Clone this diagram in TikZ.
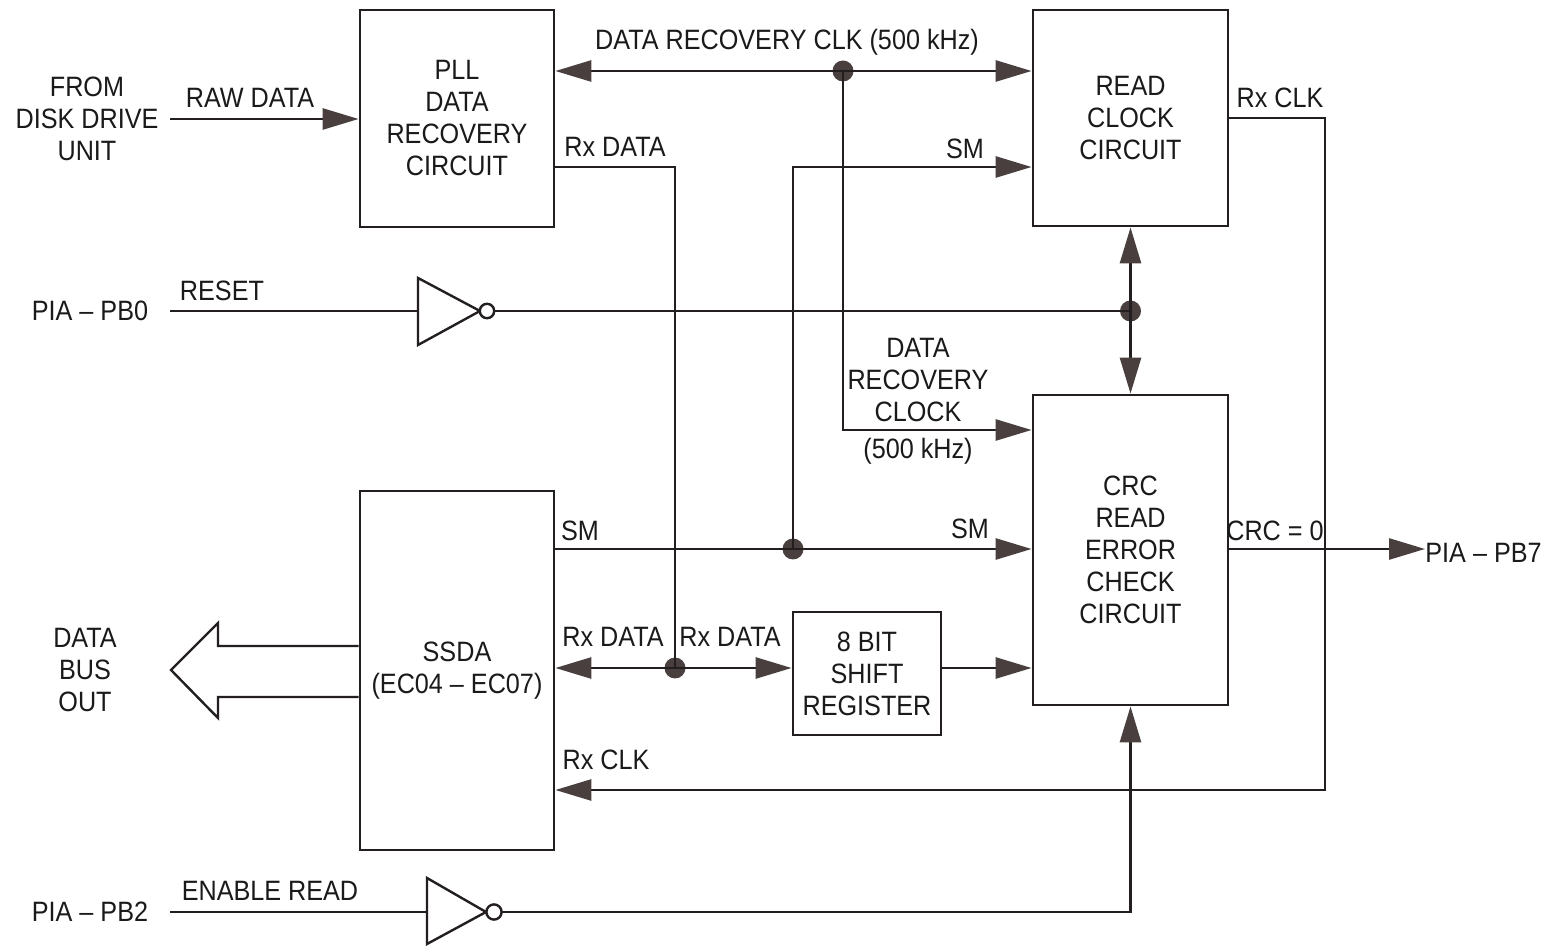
\documentclass[tikz,border=0pt]{standalone}
\usepackage{fontspec}
\setmainfont[FakeStretch=0.9]{Liberation Sans}
\usetikzlibrary{arrows.meta}
\definecolor{linec}{HTML}{231F20}
\definecolor{tipc}{HTML}{4A3F3F}
\definecolor{txtc}{HTML}{1A1A1A}
\tikzset{
  blk/.style={draw=linec, line width=1.4pt, inner sep=0pt, align=center, text=txtc,
    font=\fontsize{14}{16}\selectfont},
  lbl/.style={inner sep=0pt, align=center, text=txtc, font=\fontsize{14}{16}\selectfont},
  wire/.style={draw=linec, line width=1.35pt},
  arr/.style={wire, -{Triangle[length=18pt,width=10.5pt,fill=tipc,color=tipc]}},
  jdot/.style={circle, fill=tipc, minimum size=10.5pt, inner sep=0pt},
  gate/.style={draw=linec, line width=1.2pt, fill=white}
}
\begin{document}
\begin{tikzpicture}[x=0.5pt,y=-0.5pt]
\useasboundingbox[fill=white] (0,0) rectangle (1549,946);

% blocks
\node[blk, minimum width=97pt, minimum height=108.5pt] (pll) at (457,118.5)
  {PLL\\DATA\\RECOVERY\\CIRCUIT};
\node[blk, minimum width=97.5pt, minimum height=108pt] (rcc) at (1130.5,118)
  {READ\\CLOCK\\CIRCUIT};
\node[blk, minimum width=97.5pt, minimum height=155pt] (crc) at (1130.5,550)
  {CRC\\READ\\ERROR\\CHECK\\CIRCUIT};
\node[blk, minimum width=97pt, minimum height=179.5pt] (ssda) at (457,670.5)
  {SSDA\\(EC04 -- EC07)};
\node[blk, minimum width=74pt, minimum height=61.5pt] (sr) at (867,673.5)
  {8 BIT\\SHIFT\\REGISTER};

% labels
\node[lbl] (from) at (87,119) {FROM\\DISK DRIVE\\UNIT};
\node[lbl] at (250,98) {RAW DATA};
\node[lbl] at (787,42) {DATA RECOVERY CLK (500 kHz)};
\node[lbl] at (615,147) {Rx DATA};
\node[lbl] at (965,149) {SM};
\node[lbl] at (1280,98) {Rx CLK};
\node[lbl] at (222,291) {RESET};
\node[lbl] (pb0) at (90,311) {PIA -- PB0};
\node[lbl] at (918,380) {DATA\\RECOVERY\\CLOCK};
\node[lbl] at (918,451) {(500 kHz)};
\node[lbl] at (580,531) {SM};
\node[lbl] at (970,529) {SM};
\node[lbl] at (1275,531) {CRC = 0};
\node[lbl, anchor=west] (pb7) at (1425,553) {PIA -- PB7};
\node[lbl] at (85,670) {DATA\\BUS\\OUT};
\node[lbl] at (256,672) {D0 -- D7};
\node[lbl] at (613,637) {Rx DATA};
\node[lbl] at (730,637) {Rx DATA};
\node[lbl] at (606,760) {Rx CLK};
\node[lbl] (pb2) at (90,912) {PIA -- PB2};
\node[lbl] at (270,891) {ENABLE READ};

% junction dots
\node[jdot] (d1) at (843,71) {};
\node[jdot] (d2) at (675,668) {};
\node[jdot] (d3) at (793,549) {};
\node[jdot] (d4) at (1130.5,311) {};

% helper coordinates
\coordinate (din) at (170,119);
\coordinate (c1) at (843,430);
\coordinate (rxa) at (554,167);
\coordinate (c2) at (793,167);
\coordinate (c3) at (1325,118);
\coordinate (c4) at (1325,790);
\coordinate (rin) at (170,311);
\coordinate (i1in) at (418,311);
\coordinate (i1out) at (495,311);
\coordinate (ein) at (170,912);
\coordinate (i2in) at (427,912);
\coordinate (i2out) at (502,912);

% raw data
\draw[arr] (din) -- (din -| pll.west);
% data recovery clk
\draw[arr] (d1.center) -- (d1 -| pll.east);
\draw[arr] (d1.center) -- (d1 -| rcc.west);
\draw[arr] (d1.center) -- (c1) -- (c1 -| crc.west);
% Rx data from PLL
\draw[wire] (rxa) -| (d2.center);
\draw[arr] (d2.center) -- (d2 -| ssda.east);
\draw[arr] (d2.center) -- (d2 -| sr.west);
\draw[arr] (sr.east |- d2) -- (d2 -| crc.west);
% SM
\draw[arr] (ssda.east |- d3) -- (d3 -| crc.west);
\draw[arr] (d3.center) -- (c2) -- (c2 -| rcc.west);
% reset
\draw[wire] (rin) -- (i1in);
\draw[gate] (418,278) -- (418,345) -- (480,311) -- cycle;
\draw[gate] (487,311) circle (3.6pt);
\draw[wire] (i1out) -- (d4.center);
\draw[arr] (d4.center) -- (rcc.south);
\draw[arr] (d4.center) -- (crc.north);
% Rx clk
\draw[arr] (rcc.east) -- (c3) -- (c4) -- (c4 -| ssda.east);
% CRC = 0
\draw[arr] (crc.east |- d3) -- (d3 -| pb7.west);
% enable read
\draw[wire] (ein) -- (i2in);
\draw[gate] (427,878) -- (427,944) -- (486,912) -- cycle;
\draw[gate] (494,912) circle (3.8pt);
\draw[arr] (i2out) -| (crc.south);
% data bus out (wide arrow)
\draw[gate] (ssda.west |- 0,646) -- (218,646) -- (218,623) -- (171,670)
  -- (218,718) -- (218,697) -- (ssda.west |- 0,697);
\end{tikzpicture}
\end{document}
